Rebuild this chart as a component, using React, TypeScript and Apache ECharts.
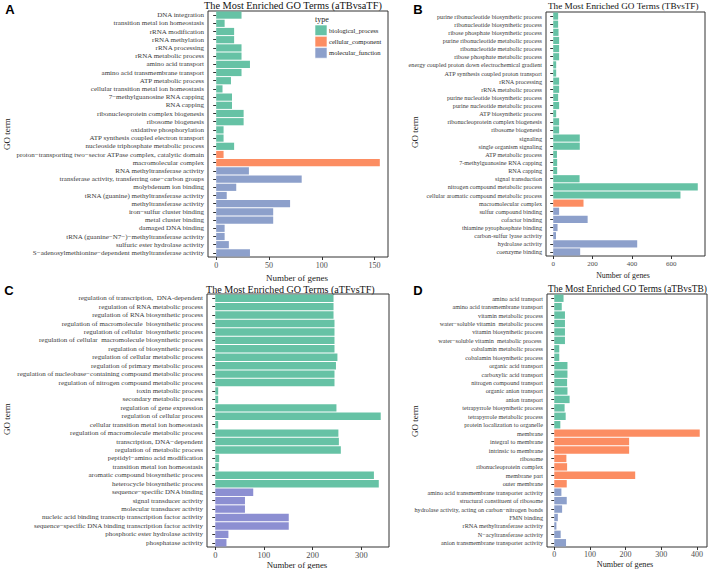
import React, { useEffect, useRef } from "react";
import * as echarts from "echarts";

const TYPES = ["biological_process", "cellular_component", "molecular_function"];

const aTerms = [
  "DNA integration",
  "transition metal ion homeostasis",
  "rRNA modification",
  "rRNA methylation",
  "rRNA processing",
  "rRNA metabolic process",
  "amino acid transport",
  "amino acid transmembrane transport",
  "ATP metabolic process",
  "cellular transition metal ion homeostasis",
  "7−methylguanosine RNA capping",
  "RNA capping",
  "ribonucleoprotein complex biogenesis",
  "ribosome biogenesis",
  "oxidative phosphorylation",
  "ATP synthesis coupled electron transport",
  "nucleoside triphosphate metabolic process",
  "proton−transporting two−sector ATPase complex, catalytic domain",
  "macromolecular complex",
  "RNA methyltransferase activity",
  "transferase activity, transferring one−carbon groups",
  "molybdenum ion binding",
  "tRNA (guanine) methyltransferase activity",
  "methyltransferase activity",
  "iron−sulfur cluster binding",
  "metal cluster binding",
  "damaged DNA binding",
  "tRNA (guanine−N7−)−methyltransferase activity",
  "sulfuric ester hydrolase activity",
  "S−adenosylmethionine−dependent methyltransferase activity",
];
const aCounts = [24, 8, 17, 17, 24, 24, 32, 24, 14, 6, 15, 15, 26, 26, 7, 7, 17, 7, 155, 31, 81, 19, 10, 70, 54, 54, 8, 8, 12, 32];
const aGroupSizes = [17, 2, 11];
const aTicks = [0, 50, 100, 150];

const bTerms = [
  "purine ribonucleotide biosynthetic process",
  "ribonucleotide biosynthetic process",
  "ribose phosphate biosynthetic process",
  "purine ribonucleotide metabolic process",
  "ribonucleotide metabolic process",
  "ribose phosphate metabolic process",
  "energy coupled proton down electrochemical gradient",
  "ATP synthesis coupled proton transport",
  "rRNA processing",
  "rRNA metabolic process",
  "purine nucleotide biosynthetic process",
  "purine nucleotide metabolic process",
  "ATP biosynthetic process",
  "ribonucleoprotein complex biogenesis",
  "ribosome biogenesis",
  "signaling",
  "single organism signaling",
  "ATP metabolic process",
  "7-methylguanosine RNA capping",
  "RNA capping",
  "signal transduction",
  "nitrogen compound metabolic process",
  "cellular aromatic compound metabolic process",
  "macromolecular complex",
  "sulfur compound binding",
  "cofactor binding",
  "thiamine pyrophosphate binding",
  "carbon-sulfur lyase activity",
  "hydrolase activity",
  "coenzyme binding",
];
const bCounts = [25, 25, 27, 30, 30, 30, 15, 15, 30, 30, 25, 30, 15, 30, 30, 135, 135, 19, 20, 20, 134, 735, 647, 154, 30, 175, 22, 14, 427, 137];
const bGroupSizes = [23, 1, 6];
const bTicks = [0, 200, 400, 600];

const cTerms = [
  "regulation of transcription,  DNA-dependent",
  "regulation of RNA metabolic process",
  "regulation of RNA biosynthetic process",
  "regulation of macromolecule  biosynthetic process",
  "regulation of cellular  biosynthetic process",
  "regulation of cellular  macromolecule biosynthetic process",
  "regulation of biosynthetic process",
  "regulation of cellular metabolic process",
  "regulation of primary metabolic process",
  "regulation of nucleobase−containing compound metabolic process",
  "regulation of nitrogen compound metabolic process",
  "toxin metabolic process",
  "secondary metabolic process",
  "regulation of gene expression",
  "regulation of cellular process",
  "cellular transition metal ion homeostasis",
  "regulation of macromolecule metabolic process",
  "transcription, DNA−dependent",
  "regulation of metabolic process",
  "peptidyl−amino acid modification",
  "transition metal ion homeostasis",
  "aromatic compound biosynthetic process",
  "heterocycle biosynthetic process",
  "sequence−specific DNA binding",
  "signal transducer activity",
  "molecular transducer activity",
  "nucleic acid binding transcrip transcription factor activity",
  "sequence−specific DNA binding transcription factor activity",
  "phosphoric ester hydrolase activity",
  "phosphatase activity",
];
const cCounts = [243, 243, 243, 245, 245, 245, 245, 251, 248, 245, 245, 6, 6, 249, 340, 6, 253, 254, 258, 8, 7, 326, 336, 78, 61, 61, 151, 151, 27, 23];
const cGroupSizes = [23, 0, 7];
const cTicks = [0, 100, 200, 300];

const dTerms = [
  "amino acid transport",
  "amino acid transmembrane transport",
  "vitamin metabolic process",
  "water−soluble vitamin  metabolic process",
  "vitamin biosynthetic process",
  "water−soluble vitamin  metabolic process ",
  "cobalamin metabolic process",
  "cobalamin biosynthetic process",
  "organic acid transport",
  "carboxylic acid transport",
  "nitrogen compound transport",
  "organic anion transport",
  "anion transport",
  "tetrapyrrole biosynthetic process",
  "tetrapyrrole metabolic process",
  "protein localization to organelle",
  "membrane",
  "integral to membrane",
  "intrinsic to membrane",
  "ribosome",
  "ribonucleoprotein complex",
  "membrane part",
  "outer membrane",
  "amino acid transmembrane transporter activity",
  "structural constituent of ribosome",
  "hydrolase activity, acting on carbon−nitrogen bonds",
  "FMN binding",
  "rRNA methyltransferase activity",
  "N−acyltransferase activity",
  "anion transmembrane transporter activity",
];
const dCounts = [26, 21, 30, 30, 30, 30, 14, 14, 37, 37, 36, 37, 43, 29, 32, 17, 408, 210, 210, 34, 36, 227, 35, 20, 35, 22, 10, 6, 18, 33];
const dGroupSizes = [16, 7, 7];
const dTicks = [0, 100, 200, 300, 400];

const panelTitles = [
  "The Most Enriched GO Terms (aTBvsaTF)",
  "The Most Enriched GO Terms (TBvsTF)",
  "The Most Enriched GO Terms (aTFvsTF)",
  "The Most Enriched GO Terms (aTBvsTB)",
];
const panelLetters = ["A", "B", "C", "D"];

const SERIF = "'Liberation Serif', 'Times New Roman', serif";
const SANS = "'Liberation Sans', Arial, sans-serif";

const typeColors = ["#66C2A5", "#FC8D62", "#8DA0CB"];
const cMfColor = "#8C8FD2";

export default function App() {
  const ref = useRef<HTMLDivElement>(null);

  useEffect(() => {
    if (!ref.current) return;
    const chart = echarts.init(ref.current, null, { renderer: "svg" });

    const panels = [
      { terms: aTerms, counts: aCounts, groups: aGroupSizes, ticks: aTicks, grid: { left: 208, top: 11, width: 180, height: 246 }, labelSize: 7, tickFont: 8, tickMargin: 4, colors: typeColors,
        title: { x: 204, y: 5, size: 10.3 }, xName: { x: 297, y: 278, size: 9 }, yName: { x: 7, y: 134, size: 9 }, letter: { x: 10, y: 9 } },
      { terms: bTerms, counts: bCounts, groups: bGroupSizes, ticks: bTicks, grid: { left: 546, top: 12, width: 159, height: 244 }, labelSize: 6.2, tickFont: 7, tickMargin: 4, colors: typeColors,
        title: { x: 548, y: 6, size: 9.2 }, xName: { x: 623, y: 275, size: 7.8 }, yName: { x: 415, y: 132, size: 9 }, letter: { x: 418, y: 9 } },
      { terms: cTerms, counts: cCounts, groups: cGroupSizes, ticks: cTicks, grid: { left: 207, top: 294, width: 182, height: 253 }, labelSize: 7, tickFont: 8.5, tickMargin: 3, colors: [typeColors[0], typeColors[1], cMfColor],
        title: { x: 206, y: 289, size: 10.1 }, xName: { x: 297, y: 565, size: 8.8 }, yName: { x: 7, y: 419, size: 9 }, letter: { x: 9, y: 290 } },
      { terms: dTerms, counts: dCounts, groups: dGroupSizes, ticks: dTicks, grid: { left: 547, top: 294, width: 160, height: 253 }, labelSize: 6.2, tickFont: 8, tickMargin: 3, colors: typeColors,
        title: { x: 548, y: 289, size: 9.4 }, xName: { x: 625, y: 564.5, size: 8.2 }, yName: { x: 415, y: 421, size: 9 }, letter: { x: 418, y: 290 } },
    ];

    const grids: any[] = [];
    const xAxes: any[] = [];
    const yAxes: any[] = [];
    const series: any[] = [];
    const graphics: any[] = [];

    panels.forEach((p, pi) => {
      const maxV = Math.max(...p.counts);
      const pad = maxV * 0.05;
      const typeIdx: number[] = [];
      p.groups.forEach((n, t) => {
        for (let k = 0; k < n; k++) typeIdx.push(t);
      });
      grids.push({
        ...p.grid,
        show: true,
        borderColor: "#333",
        borderWidth: 1,
        backgroundColor: "#fff",
        containLabel: false,
      });
      xAxes.push({
        type: "value",
        gridIndex: pi,
        min: -pad,
        max: maxV + pad,
        axisLine: { show: false },
        splitLine: { show: false },
        axisTick: { show: true, length: 3, lineStyle: { color: "#333" }, customValues: p.ticks },
        axisLabel: { customValues: p.ticks, fontSize: p.tickFont, fontFamily: SERIF, color: "#4d4d4d", margin: p.tickMargin },
      });
      yAxes.push({
        type: "category",
        gridIndex: pi,
        data: p.terms,
        inverse: true,
        axisLine: { show: false },
        axisTick: { show: true, length: 3, alignWithLabel: true, lineStyle: { color: "#333" } },
        axisLabel: { interval: 0, fontSize: p.labelSize, fontFamily: SERIF, color: "#3a3a3a", margin: 4 },
      });
      TYPES.forEach((tn, t) => {
        if (p.groups[t] === 0) return;
        series.push({
          type: "bar",
          name: tn,
          xAxisIndex: pi,
          yAxisIndex: pi,
          stack: "panel" + pi,
          barCategoryGap: "12%",
          itemStyle: { color: p.colors[t] },
          data: p.counts.map((v, i) => (typeIdx[i] === t ? v : "-")),
        });
      });
      graphics.push({
        type: "text",
        x: p.title.x,
        y: p.title.y,
        style: { text: panelTitles[pi], fontSize: p.title.size, fontFamily: SERIF, fill: "#111", align: "left", verticalAlign: "middle" },
      });
      graphics.push({
        type: "text",
        x: p.xName.x,
        y: p.xName.y,
        style: { text: "Number of genes", fontSize: p.xName.size, fontFamily: SERIF, fill: "#222", align: "center", verticalAlign: "middle" },
      });
      graphics.push({
        type: "text",
        x: p.yName.x,
        y: p.yName.y,
        rotation: Math.PI / 2,
        style: { text: "GO term", fontSize: p.yName.size, fontFamily: SERIF, fill: "#222", align: "center", verticalAlign: "middle" },
      });
      graphics.push({
        type: "text",
        x: p.letter.x,
        y: p.letter.y,
        style: { text: panelLetters[pi], fontSize: 13, fontWeight: "bold", fontFamily: SANS, fill: "#000", align: "center", verticalAlign: "middle" },
      });
    });

    // legend for panel A (type)
    graphics.push({
      type: "text",
      x: 315,
      y: 19,
      style: { text: "type", fontSize: 8, fontFamily: SERIF, fill: "#222", align: "left", verticalAlign: "middle" },
    });
    TYPES.forEach((tn, t) => {
      const y0 = 25 + t * 11.3;
      graphics.push({
        type: "rect",
        shape: { x: 315, y: y0, width: 12, height: 10.6 },
        style: { fill: typeColors[t], stroke: "#fff", lineWidth: 0.6 },
      });
      graphics.push({
        type: "text",
        x: 329,
        y: y0 + 5.3,
        style: { text: tn, fontSize: 6.6, fontFamily: SERIF, fill: "#222", align: "left", verticalAlign: "middle" },
      });
    });

    chart.setOption({
      animation: false,
      backgroundColor: "#fff",
      grid: grids,
      xAxis: xAxes,
      yAxis: yAxes,
      series,
      graphic: graphics,
    });

    return () => chart.dispose();
  }, []);

  return <div ref={ref} style={{ position: "fixed", left: 0, top: 0, width: 708, height: 569 }} />;
}
